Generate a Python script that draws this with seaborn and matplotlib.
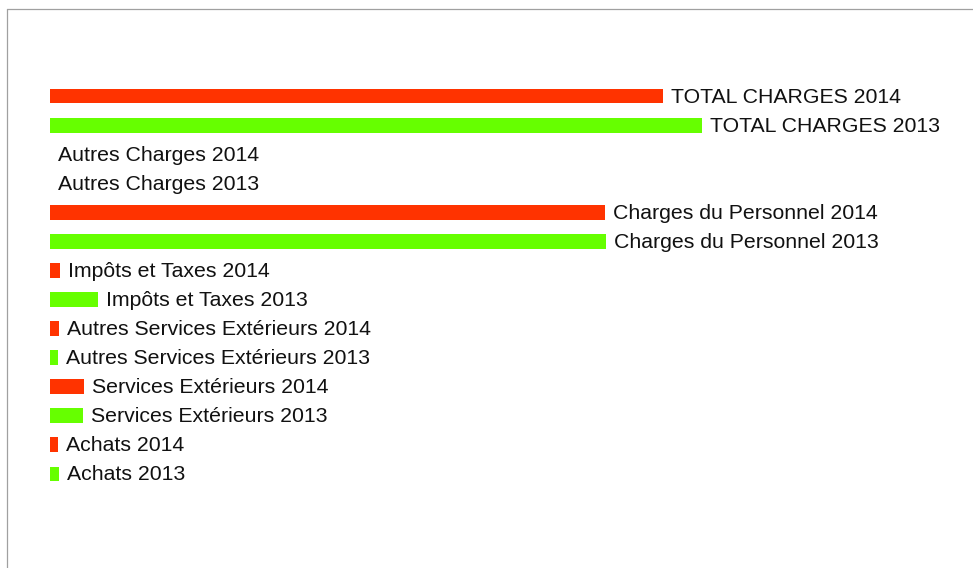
import matplotlib
matplotlib.use("Agg")
import matplotlib.pyplot as plt
import seaborn as sns
import pandas as pd
from matplotlib.lines import Line2D

labels = [
    "TOTAL CHARGES 2014", "TOTAL CHARGES 2013",
    "Autres Charges 2014", "Autres Charges 2013",
    "Charges du Personnel 2014", "Charges du Personnel 2013",
    "Impôts et Taxes 2014", "Impôts et Taxes 2013",
    "Autres Services Extérieurs 2014", "Autres Services Extérieurs 2013",
    "Services Extérieurs 2014", "Services Extérieurs 2013",
    "Achats 2014", "Achats 2013",
]
values = [613, 652, 0, 0, 555, 556, 10, 48, 9, 8, 34, 33, 8, 9]
years = ["2014", "2013"] * 7
palette = {"2014": "#ff3300", "2013": "#66ff00"}

df = pd.DataFrame({"label": labels, "value": values, "year": years})

sns.set_theme(style="white")
plt.rcParams["font.family"] = ["Liberation Sans", "DejaVu Sans"]

fig = plt.figure(figsize=(9.73, 5.68), dpi=100)
ax = fig.add_axes([50 / 973, 1 - 488.5 / 568, 910 / 973, (488.5 - 81.5) / 568])

sns.barplot(data=df, y="label", x="value", hue="year", palette=palette,
            orient="h", dodge=False, width=0.51, legend=False, ax=ax,
            saturation=1, linewidth=0, edgecolor="none")

ax.set_xlim(0, 910)
ax.set_ylim(13.5, -0.5)
for i, (lab, v) in enumerate(zip(labels, values)):
    ax.annotate(lab, xy=(v, i), xytext=(8, 1), textcoords="offset pixels",
                va="center_baseline", ha="left", fontsize=15.35, color="#111111")

ax.set_axis_off()

fig.add_artist(Line2D([6.5 / 973, 6.5 / 973], [0, 1 - 9 / 568],
                      transform=fig.transFigure, color="#a0a0a0", lw=0.9))
fig.add_artist(Line2D([6.5 / 973, 1], [1 - 9 / 568, 1 - 9 / 568],
                      transform=fig.transFigure, color="#a0a0a0", lw=0.9))

fig.savefig("out.png", dpi=100, facecolor="white")
